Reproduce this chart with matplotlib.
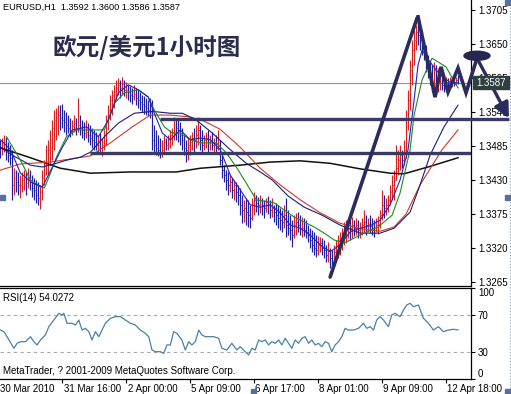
import numpy as np
import matplotlib
matplotlib.use('Agg')
import matplotlib.pyplot as plt
import matplotlib.transforms as mtransforms
from matplotlib.patches import Ellipse, Rectangle
from matplotlib.lines import Line2D

plt.rcParams['font.family'] = ['Liberation Sans', 'DejaVu Sans']

# ---------------- data ----------------
header_text = 'EURUSD,H1  1.3592 1.3600 1.3586 1.3587'
title_cn = '欧元/美元1小时图'
rsi_title = 'RSI(14) 54.0272'
copyright_text = 'MetaTrader, ? 2001-2009 MetaQuotes Software Corp.'

first_open = 1.3490
bar_high = [
    1.3495, 1.3498, 1.3503, 1.3500, 1.3491, 1.3487, 1.3479, 1.3449, 1.3446, 1.3443,
    1.3438, 1.3443, 1.3446, 1.3443, 1.3449, 1.3446, 1.3438, 1.3433, 1.3430, 1.3427,
    1.3422, 1.3446, 1.3462, 1.3487, 1.3495, 1.3511, 1.3527, 1.3543, 1.3546, 1.3551,
    1.3551, 1.3553, 1.3543, 1.3540, 1.3535, 1.3530, 1.3527, 1.3535, 1.3530, 1.3562,
    1.3535, 1.3527, 1.3524, 1.3527, 1.3522, 1.3519, 1.3514, 1.3511, 1.3508, 1.3503,
    1.3506, 1.3498, 1.3511, 1.3535, 1.3551, 1.3567, 1.3576, 1.3584, 1.3592, 1.3595,
    1.3592, 1.3597, 1.3592, 1.3588, 1.3584, 1.3582, 1.3579, 1.3584, 1.3579, 1.3576,
    1.3572, 1.3567, 1.3566, 1.3562, 1.3559, 1.3562, 1.3559, 1.3519, 1.3511, 1.3503,
    1.3498, 1.3495, 1.3503, 1.3498, 1.3503, 1.3511, 1.3514, 1.3532, 1.3527, 1.3530,
    1.3524, 1.3514, 1.3503, 1.3495, 1.3498, 1.3503, 1.3508, 1.3514, 1.3519, 1.3532,
    1.3519, 1.3511, 1.3503, 1.3508, 1.3511, 1.3503, 1.3508, 1.3498, 1.3503, 1.3511,
    1.3495, 1.3470, 1.3454, 1.3446, 1.3443, 1.3438, 1.3433, 1.3430, 1.3427, 1.3422,
    1.3417, 1.3406, 1.3398, 1.3401, 1.3398, 1.3390, 1.3401, 1.3411, 1.3406, 1.3403,
    1.3406, 1.3401, 1.3398, 1.3401, 1.3404, 1.3398, 1.3401, 1.3390, 1.3393, 1.3390,
    1.3385, 1.3381, 1.3390, 1.3401, 1.3381, 1.3373, 1.3365, 1.3373, 1.3377, 1.3378,
    1.3373, 1.3370, 1.3368, 1.3365, 1.3357, 1.3352, 1.3349, 1.3346, 1.3341, 1.3339,
    1.3337, 1.3336, 1.3333, 1.3325, 1.3330, 1.3320, 1.3317, 1.3325, 1.3333, 1.3341,
    1.3346, 1.3352, 1.3362, 1.3365, 1.3368, 1.3365, 1.3370, 1.3365, 1.3368, 1.3365,
    1.3362, 1.3368, 1.3381, 1.3373, 1.3368, 1.3373, 1.3368, 1.3365, 1.3368, 1.3371,
    1.3381, 1.3414, 1.3406, 1.3401, 1.3406, 1.3422, 1.3438, 1.3446, 1.3487, 1.3479,
    1.3487, 1.3479, 1.3495, 1.3543, 1.3576, 1.3624, 1.3656, 1.3673, 1.3681, 1.3686,
    1.3681, 1.3673, 1.3656, 1.3648, 1.3632, 1.3624, 1.3616, 1.3621, 1.3616, 1.3611,
    1.3613, 1.3605, 1.3600, 1.3597, 1.3595, 1.3597, 1.3595, 1.3595, 1.3597, 1.3600,
]
bar_low = [
    1.3466, 1.3470, 1.3475, 1.3462, 1.3459, 1.3454, 1.3398, 1.3406, 1.3411, 1.3406,
    1.3401, 1.3411, 1.3414, 1.3406, 1.3417, 1.3414, 1.3403, 1.3398, 1.3393, 1.3390,
    1.3383, 1.3398, 1.3422, 1.3438, 1.3438, 1.3454, 1.3462, 1.3479, 1.3495, 1.3503,
    1.3511, 1.3514, 1.3508, 1.3503, 1.3506, 1.3500, 1.3503, 1.3508, 1.3503, 1.3508,
    1.3503, 1.3498, 1.3495, 1.3498, 1.3491, 1.3487, 1.3482, 1.3479, 1.3479, 1.3475,
    1.3474, 1.3469, 1.3479, 1.3487, 1.3511, 1.3527, 1.3535, 1.3546, 1.3559, 1.3567,
    1.3562, 1.3567, 1.3566, 1.3562, 1.3559, 1.3556, 1.3553, 1.3559, 1.3551, 1.3546,
    1.3543, 1.3540, 1.3537, 1.3535, 1.3533, 1.3530, 1.3479, 1.3475, 1.3470, 1.3469,
    1.3466, 1.3467, 1.3475, 1.3479, 1.3479, 1.3482, 1.3487, 1.3495, 1.3495, 1.3491,
    1.3487, 1.3479, 1.3470, 1.3459, 1.3462, 1.3470, 1.3479, 1.3475, 1.3482, 1.3487,
    1.3479, 1.3475, 1.3479, 1.3482, 1.3475, 1.3479, 1.3479, 1.3475, 1.3474, 1.3479,
    1.3454, 1.3433, 1.3427, 1.3414, 1.3406, 1.3411, 1.3401, 1.3398, 1.3394, 1.3390,
    1.3373, 1.3360, 1.3362, 1.3357, 1.3354, 1.3352, 1.3365, 1.3373, 1.3378, 1.3373,
    1.3377, 1.3373, 1.3368, 1.3378, 1.3375, 1.3368, 1.3370, 1.3362, 1.3357, 1.3352,
    1.3349, 1.3346, 1.3352, 1.3337, 1.3341, 1.3333, 1.3321, 1.3336, 1.3341, 1.3346,
    1.3341, 1.3337, 1.3339, 1.3336, 1.3330, 1.3320, 1.3313, 1.3308, 1.3305, 1.3308,
    1.3313, 1.3308, 1.3304, 1.3297, 1.3297, 1.3287, 1.3284, 1.3292, 1.3297, 1.3304,
    1.3308, 1.3317, 1.3325, 1.3328, 1.3336, 1.3333, 1.3336, 1.3339, 1.3341, 1.3336,
    1.3336, 1.3341, 1.3346, 1.3341, 1.3346, 1.3344, 1.3341, 1.3337, 1.3346, 1.3342,
    1.3352, 1.3365, 1.3368, 1.3373, 1.3378, 1.3390, 1.3398, 1.3398, 1.3430, 1.3438,
    1.3446, 1.3449, 1.3454, 1.3466, 1.3511, 1.3543, 1.3584, 1.3616, 1.3640, 1.3648,
    1.3640, 1.3632, 1.3624, 1.3605, 1.3595, 1.3584, 1.3572, 1.3579, 1.3567, 1.3572,
    1.3576, 1.3576, 1.3572, 1.3576, 1.3572, 1.3579, 1.3580, 1.3582, 1.3584, 1.3586,
]
bar_close = [
    1.3482, 1.3487, 1.3491, 1.3479, 1.3470, 1.3466, 1.3422, 1.3433, 1.3427, 1.3422,
    1.3422, 1.3430, 1.3433, 1.3425, 1.3438, 1.3427, 1.3417, 1.3414, 1.3406, 1.3401,
    1.3411, 1.3433, 1.3454, 1.3479, 1.3479, 1.3495, 1.3514, 1.3527, 1.3530, 1.3535,
    1.3530, 1.3527, 1.3524, 1.3519, 1.3514, 1.3511, 1.3517, 1.3522, 1.3514, 1.3519,
    1.3514, 1.3511, 1.3506, 1.3508, 1.3503, 1.3498, 1.3495, 1.3491, 1.3487, 1.3487,
    1.3482, 1.3487, 1.3503, 1.3527, 1.3543, 1.3559, 1.3567, 1.3572, 1.3579, 1.3584,
    1.3579, 1.3585, 1.3576, 1.3576, 1.3572, 1.3567, 1.3566, 1.3569, 1.3562, 1.3559,
    1.3556, 1.3553, 1.3550, 1.3546, 1.3543, 1.3540, 1.3495, 1.3487, 1.3482, 1.3479,
    1.3475, 1.3479, 1.3491, 1.3487, 1.3495, 1.3503, 1.3508, 1.3519, 1.3514, 1.3511,
    1.3503, 1.3495, 1.3482, 1.3479, 1.3487, 1.3491, 1.3498, 1.3495, 1.3503, 1.3511,
    1.3495, 1.3487, 1.3495, 1.3498, 1.3491, 1.3495, 1.3487, 1.3490, 1.3482, 1.3487,
    1.3462, 1.3446, 1.3438, 1.3430, 1.3422, 1.3427, 1.3414, 1.3422, 1.3411, 1.3406,
    1.3390, 1.3381, 1.3385, 1.3378, 1.3373, 1.3368, 1.3390, 1.3398, 1.3393, 1.3390,
    1.3398, 1.3390, 1.3385, 1.3394, 1.3390, 1.3381, 1.3385, 1.3378, 1.3373, 1.3368,
    1.3365, 1.3362, 1.3373, 1.3357, 1.3352, 1.3349, 1.3341, 1.3357, 1.3362, 1.3357,
    1.3352, 1.3352, 1.3349, 1.3346, 1.3341, 1.3333, 1.3325, 1.3320, 1.3317, 1.3325,
    1.3328, 1.3320, 1.3317, 1.3308, 1.3317, 1.3304, 1.3297, 1.3313, 1.3325, 1.3333,
    1.3336, 1.3341, 1.3349, 1.3352, 1.3357, 1.3352, 1.3357, 1.3352, 1.3357, 1.3349,
    1.3352, 1.3357, 1.3362, 1.3357, 1.3359, 1.3355, 1.3352, 1.3349, 1.3357, 1.3359,
    1.3373, 1.3390, 1.3385, 1.3390, 1.3398, 1.3411, 1.3422, 1.3430, 1.3449, 1.3462,
    1.3470, 1.3462, 1.3479, 1.3527, 1.3559, 1.3608, 1.3640, 1.3656, 1.3669, 1.3665,
    1.3656, 1.3643, 1.3637, 1.3616, 1.3608, 1.3600, 1.3584, 1.3608, 1.3579, 1.3595,
    1.3600, 1.3584, 1.3579, 1.3588, 1.3582, 1.3587, 1.3588, 1.3585, 1.3592, 1.3587,
]

# moving averages (bar index, price)
ma_fast_x = [0, 5, 10, 16, 21, 26, 31, 36, 43, 49, 54, 59, 64, 69, 74, 77, 81, 85, 90, 95,
             100, 105, 110, 115, 120, 125, 130, 135, 140, 145, 150, 155, 160, 165, 170, 175,
             180, 185, 190, 195, 200, 204, 207, 209, 211, 215, 220, 225, 229]
ma_fast_y = [1.3495, 1.3479, 1.3441, 1.3425, 1.3419, 1.3451, 1.3483, 1.3511, 1.3516, 1.3500,
             1.3527, 1.3571, 1.3584, 1.3576, 1.3564, 1.3538, 1.3506, 1.3495, 1.3511, 1.3495,
             1.3498, 1.3495, 1.3479, 1.3438, 1.3414, 1.3390, 1.3386, 1.3390, 1.3377, 1.3357,
             1.3352, 1.3341, 1.3325, 1.3314, 1.3325, 1.3346, 1.3352, 1.3356, 1.3365, 1.3390,
             1.3430, 1.3479, 1.3559, 1.3616, 1.3640, 1.3621, 1.3600, 1.3588, 1.3587]
ma_green_x = [3, 10, 15, 20, 22, 25, 28, 33, 38, 45, 52, 57, 62, 69, 74, 77, 82, 86, 90, 95,
              100, 108, 113, 118, 123, 128, 137, 147, 157, 162, 167, 172, 182, 189, 196, 200,
              205, 207, 211, 216, 223, 229]
ma_green_y = [1.3500, 1.3462, 1.3430, 1.3419, 1.3417, 1.3441, 1.3467, 1.3500, 1.3511, 1.3511,
              1.3511, 1.3554, 1.3571, 1.3576, 1.3564, 1.3543, 1.3516, 1.3506, 1.3506, 1.3495,
              1.3490, 1.3490, 1.3474, 1.3451, 1.3425, 1.3398, 1.3393, 1.3370, 1.3354, 1.3344,
              1.3333, 1.3328, 1.3344, 1.3354, 1.3373, 1.3409, 1.3479, 1.3535, 1.3592, 1.3627,
              1.3613, 1.3579]
ma_navy_x = [0, 6, 15, 21, 28, 33, 40, 45, 52, 59, 67, 76, 85, 91, 98, 106, 115, 123, 130, 136,
             144, 152, 161, 170, 180, 190, 197, 205, 210, 215, 222, 229]
ma_navy_y = [1.3483, 1.3470, 1.3454, 1.3451, 1.3457, 1.3462, 1.3467, 1.3475, 1.3500, 1.3522,
             1.3538, 1.3541, 1.3538, 1.3538, 1.3527, 1.3506, 1.3479, 1.3457, 1.3443, 1.3430,
             1.3404, 1.3386, 1.3373, 1.3357, 1.3344, 1.3344, 1.3352, 1.3378, 1.3422, 1.3470,
             1.3516, 1.3551]
ma_red_x = [0, 10, 25, 45, 55, 66, 75, 85, 95, 102, 110, 120, 130, 140, 150, 160, 170, 180,
            190, 197, 203, 210, 221, 229]
ma_red_y = [1.3446, 1.3456, 1.3459, 1.3469, 1.3490, 1.3516, 1.3535, 1.3535, 1.3532, 1.3525,
            1.3512, 1.3483, 1.3449, 1.3422, 1.3398, 1.3377, 1.3360, 1.3351, 1.3347, 1.3354,
            1.3375, 1.3422, 1.3479, 1.3511]
ma_slow_x = [0, 15, 30, 45, 65, 88, 100, 120, 135, 150, 165, 180, 195, 202, 215, 229]
ma_slow_y = [1.3482, 1.3466, 1.3449, 1.3441, 1.3443, 1.3443, 1.3449, 1.3454, 1.3459, 1.3461,
             1.3457, 1.3448, 1.3441, 1.3440, 1.3452, 1.3466]

# RSI(14) (bar index, value)
rsi_x = [0, 1.7, 3.3, 6.7, 8.3, 10, 12.5, 15, 16.7, 18.3, 20, 22.5, 24.2, 26.7, 29.2, 30.8,
         31.7, 33.3, 35.8, 37.5, 39.2, 40.8, 42.5, 44.2, 45.8, 47.5, 49.2, 50.8, 52.5, 55,
         57.5, 60, 62.5, 65, 67.5, 70, 72.5, 74.2, 75.8, 77.5, 80, 81.7, 83.3, 85, 86.7,
         88.3, 90.8, 92.5, 94.2, 95.8, 97.5, 99.2, 100.8, 102.5, 104.2, 106.7, 109.2, 110.8,
         113.3, 115.8, 118.3, 120, 122.5, 124.2, 125.8, 127.5, 129.2, 130.8, 132.5, 134.2,
         135.8, 137.5, 139.2, 140.8, 142.5, 144.2, 145.8, 147.5, 149.2, 150.8, 152.5, 154.2,
         155.8, 157.5, 159.2, 160.8, 162.5, 164.2, 165.8, 167.5, 169.2, 170.8, 172.5, 174.2,
         176.7, 179.2, 181.7, 183.3, 185, 186.7, 188.3, 190, 191.7, 194.2, 195.8, 197.5, 200,
         201.7, 203.3, 205, 206.7, 209.2, 211.7, 214.2, 216.7, 219.2, 221.7, 224.2, 226.7, 229]
rsi_y = [53.8, 52.0, 46.5, 33.7, 39.2, 41.0, 41.0, 46.5, 41.0, 37.4, 42.9, 48.4, 57.5, 64.8,
         72.2, 70.3, 72.2, 61.2, 61.2, 59.3, 64.8, 53.8, 55.7, 52.0, 42.9, 52.0, 46.5, 53.8,
         61.2, 66.7, 68.5, 68.5, 64.8, 61.2, 59.3, 53.8, 50.2, 46.5, 31.9, 30.0, 30.0, 28.2,
         37.4, 37.4, 52.0, 50.2, 42.9, 31.9, 41.0, 37.4, 41.0, 53.8, 48.4, 46.5, 46.5, 46.5,
         44.7, 33.7, 31.9, 39.2, 31.9, 35.5, 30.0, 26.4, 33.7, 31.9, 42.9, 41.0, 42.9, 37.4,
         41.0, 39.2, 42.9, 37.4, 44.7, 39.2, 33.7, 42.9, 39.2, 44.7, 46.5, 39.2, 42.9, 37.4,
         39.2, 35.5, 41.0, 39.2, 30.0, 37.4, 41.0, 46.5, 55.7, 53.8, 53.8, 55.7, 61.2, 55.7,
         57.5, 53.8, 64.8, 68.5, 64.8, 57.5, 70.3, 72.2, 68.5, 75.8, 81.3, 83.2, 79.5, 81.3,
         66.7, 61.2, 53.8, 57.5, 52.0, 53.8, 54.6, 54.03]

price_ticks = [1.3265, 1.3320, 1.3375, 1.3430, 1.3485, 1.3540, 1.3595, 1.3650, 1.3705]
rsi_ticks = [0, 30, 70, 100]
rsi_levels = [30, 70]
time_tick_bars = [-1, 31, 63, 95, 127, 159, 191, 223]
time_tick_labels = ['30 Mar 2010', '31 Mar 16:00', '2 Apr 00:00', '5 Apr 09:00',
                    '6 Apr 17:00', '8 Apr 01:00', '9 Apr 09:00', '12 Apr 18:00']

bid_price = 1.3587
resist_level, resist_start = 1.3528, 80
support_level, support_start = 1.3474, 45
trend_x = [165, 208.5]
trend_y = [1.3273, 1.3692]
forecast_x = [209, 217.5, 220.5, 224, 229, 233, 238.5]
forecast_y = [1.3694, 1.3564, 1.3613, 1.3572, 1.3611, 1.3571, 1.3627]
forecast_target = (254.5, 1.3530)
ellipse_center = (238.5, 1.3631)

# ---------------- figure ----------------
W, H = 511, 394
fig = plt.figure(figsize=(W / 100, H / 100), dpi=100)
fig.patch.set_facecolor('white')


def px_rect(l, t, r, b):
    return [l / W, 1 - b / H, (r - l) / W, (b - t) / H]


ax = fig.add_axes(px_rect(0, 0, 471, 286))
ax2 = fig.add_axes(px_rect(0, 288, 471, 379))

n = len(bar_close)
xs = np.arange(n)
highs = np.array(bar_high)
lows = np.array(bar_low)
closes = np.array(bar_close)
opens = np.concatenate([[first_open], closes[:-1]])
up = closes >= opens
col_up, col_dn = '#d42222', '#1e1ea2'
colors = np.where(up, col_up, col_dn)

NAVY = '#2b2b5c'

# bid line
ax.axhline(bid_price, color='#8a9898', lw=0.8, zorder=1)

# bars
ax.vlines(xs, lows, highs, colors=colors, lw=0.85, zorder=3)
ax.hlines(opens, xs - 0.4, xs, colors=colors, lw=0.6, zorder=3)
ax.hlines(closes, xs, xs + 0.4, colors=colors, lw=0.6, zorder=3)

# moving averages
ax.plot(ma_slow_x, ma_slow_y, color='#111111', lw=1.1, zorder=4)
ax.plot(ma_red_x, ma_red_y, color='#cc3a2a', lw=0.8, zorder=4)
ax.plot(ma_navy_x, ma_navy_y, color='#1c1c78', lw=0.8, zorder=4)
ax.plot(ma_green_x, ma_green_y, color='#1f8a1f', lw=0.8, zorder=4)
ax.plot(ma_fast_x, ma_fast_y, color='#2424b4', lw=0.8, zorder=4)

# horizontal support / resistance lines
ax.plot([resist_start, forecast_target[0]], [resist_level, resist_level],
        color='#3a3a66', lw=2.4, zorder=5, clip_on=False, solid_capstyle='butt')
ax.plot([support_start, 235.5], [support_level, support_level],
        color='#3a3a66', lw=2.4, zorder=5, solid_capstyle='butt')

# trend line and forecast zigzag
ax.plot(trend_x, trend_y, color=NAVY, lw=2.6, zorder=6, solid_capstyle='round')
ax.plot(forecast_x, forecast_y, color=NAVY, lw=2.6, zorder=6, clip_on=False,
        solid_joinstyle='miter')
ax.annotate('', xy=forecast_target, xytext=(forecast_x[-1], forecast_y[-1]),
            arrowprops=dict(arrowstyle='-|>,head_length=0.9,head_width=0.45',
                            color=NAVY, lw=2.4, shrinkA=0, shrinkB=0,
                            mutation_scale=10),
            annotation_clip=False, zorder=6)
ax.add_patch(Ellipse(ellipse_center, width=13, height=0.00146, color='#262650',
                     zorder=7, clip_on=False))

ax.set_xlim(-0.25, 235.5)
ax.set_ylim(1.32585, 1.37212)
ax.set_xticks([])
ax.yaxis.tick_right()
ax.set_yticks(price_ticks)
ax.set_yticklabels(['%.4f' % t for t in price_ticks])
ax.tick_params(axis='y', direction='out', length=3, width=0.8, pad=2,
               labelsize=7, colors='black')
for s in ['left', 'top']:
    ax.spines[s].set_visible(False)
for s in ['right', 'bottom']:
    ax.spines[s].set_linewidth(0.9)
ax.set_facecolor('white')

# ---- RSI panel ----
for lvl in rsi_levels:
    ax2.axhline(lvl, color='#a8a8a8', lw=0.8, ls=(0, (3, 3)))
ax2.plot(rsi_x, rsi_y, color='#4a80aa', lw=0.9)
ax2.set_xlim(-0.25, 235.5)
ax2.set_ylim(0, 100)
ax2.yaxis.tick_right()
ax2.set_yticks(rsi_ticks)
ax2.set_yticklabels([str(t) for t in rsi_ticks])
ax2.tick_params(axis='y', direction='out', length=3, width=0.8, pad=2,
                labelsize=7, colors='black')
ticks = ax2.yaxis.get_major_ticks()
ticks[0].label2.set_verticalalignment('bottom')
ticks[-1].label2.set_verticalalignment('top')
ax2.set_xticks([b for b in time_tick_bars if b >= 0])
ax2.tick_params(axis='x', direction='out', length=3, width=0.8, labelbottom=False)
ax2.spines['left'].set_visible(False)
for s in ['right', 'bottom', 'top']:
    ax2.spines[s].set_linewidth(0.9)

trans = mtransforms.blended_transform_factory(ax2.transData, ax2.transAxes)
for b, lab in zip(time_tick_bars, time_tick_labels):
    ax2.text(b + 0.6, -9.5 / 91, lab, transform=trans, ha='left', va='center',
             fontsize=7, clip_on=False)

# ---- texts ----
fig.text(3 / W, 1 - 7 / H, header_text, fontsize=6.6, ha='left', va='center')
fig.text(53 / W, 1 - 47.5 / H, title_cn, fontsize=17, fontweight='bold',
         family=['Noto Sans CJK SC', 'DejaVu Sans'], color='#2b2b4d',
         ha='left', va='center')
fig.text(3 / W, 1 - 298 / H, rsi_title, fontsize=7, ha='left', va='center')
fig.text(3 / W, 1 - 371 / H, copyright_text, fontsize=7, ha='left', va='center')

# current price box
fig.patches.append(Rectangle((473 / W, 1 - 89 / H), 36 / W, 13 / H,
                             transform=fig.transFigure, color='#2f3e3e', zorder=5))
fig.text(491 / W, 1 - 82.5 / H, '1.3587', color='white', fontsize=7,
         ha='center', va='center', zorder=6)

# window border and scroll markers
fig.add_artist(Line2D([509.5 / W, 509.5 / W], [0, 1], transform=fig.transFigure,
                      ls=':', color='#8899bb', lw=0.8))
for (mx, my) in [(505, 0), (505, 195), (0, 195), (251, 389), (505, 389)]:
    fig.patches.append(Rectangle((mx / W, 1 - (my + 5) / H), 5 / W, 5 / H,
                                 transform=fig.transFigure, color='#55709a', zorder=5))

fig.savefig('out.png', dpi=100, facecolor='white')
